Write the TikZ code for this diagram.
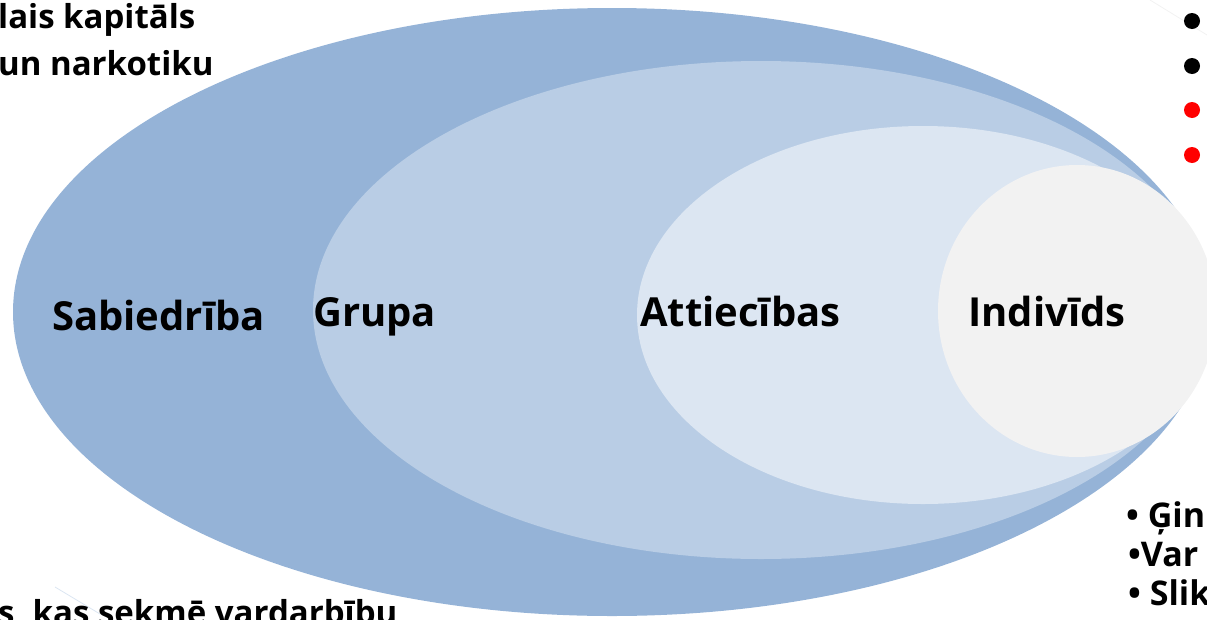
\documentclass[tikz,border=0pt]{standalone}
\usepackage{fontspec}
\setmainfont{Open Sans}[BoldFont={Open Sans Bold}]
\definecolor{cOuter}{HTML}{95B3D7}
\definecolor{cGroup}{HTML}{B9CDE5}
\definecolor{cRel}{HTML}{DCE6F2}
\definecolor{cInd}{HTML}{F2F2F2}
\tikzset{
  lbl/.style={inner sep=0pt, anchor=base west, font=\fontsize{40}{44}\selectfont\bfseries},
  sidetxt/.style={inner sep=0pt, anchor=base west, font=\fontsize{33}{36}\selectfont\bfseries},
  bultxt/.style={inner sep=0pt, anchor=base west, font=\fontsize{34}{37}\selectfont\bfseries},
  bul/.style={circle, inner sep=0pt, minimum size=16pt},
  faint/.style={line width=0.8pt}
}
\begin{document}
\begin{tikzpicture}[x=1pt,y=-1pt]
\useasboundingbox (0,0) rectangle (1207,619);
\clip (0,0) rectangle (1207,619);
% faint lines
\coordinate (f1a) at (1150,0);
\coordinate (f1b) at (1207,35);
\coordinate (f2a) at (55,587);
\coordinate (f2b) at (100,614);
\draw[faint, draw=black!5] (f1a) -- (f1b);
% ellipses
\fill[cOuter] (612,312) ellipse [x radius=599, y radius=304];
\fill[cGroup] (761,310) ellipse [x radius=448, y radius=249];
\fill[cRel] (923,315) ellipse [x radius=286, y radius=189];
\fill[cInd] (1077,311) ellipse [x radius=139, y radius=146];
\draw[faint, draw=cRel] (f2a) -- (f2b);
% labels
\node[lbl] (sab) at (52,330) {Sabiedrība};
\node[lbl] (grp) at (313,326) {Grupa};
\node[lbl] (att) at (640,326) {Attiecības};
\node[lbl] (ind) at (968,326) {Indivīds};
% top-left text
\node[sidetxt] (tl1) at (-2,28) {lais kapitāls};
\node[sidetxt] (tl2) at (-2,75) {un narkotiku};
% bottom text
\node[sidetxt] (bl) at (-2,624) {s, kas sekmē vardarbību};
% right bullets
\node[bul, fill=black] (b1) at (1192,21) {};
\node[bul, fill=black] (b2) at (1192,66) {};
\node[bul, fill=red] (b3) at (1192,110) {};
\node[bul, fill=red] (b4) at (1192,155) {};
% bottom-right list
\node[bultxt] (r1) at (1126,527) {• Ģin};
\node[bultxt] (r2) at (1128,566) {•Var};
\node[bultxt] (r3) at (1128,605) {• Slik};
\end{tikzpicture}
\end{document}
